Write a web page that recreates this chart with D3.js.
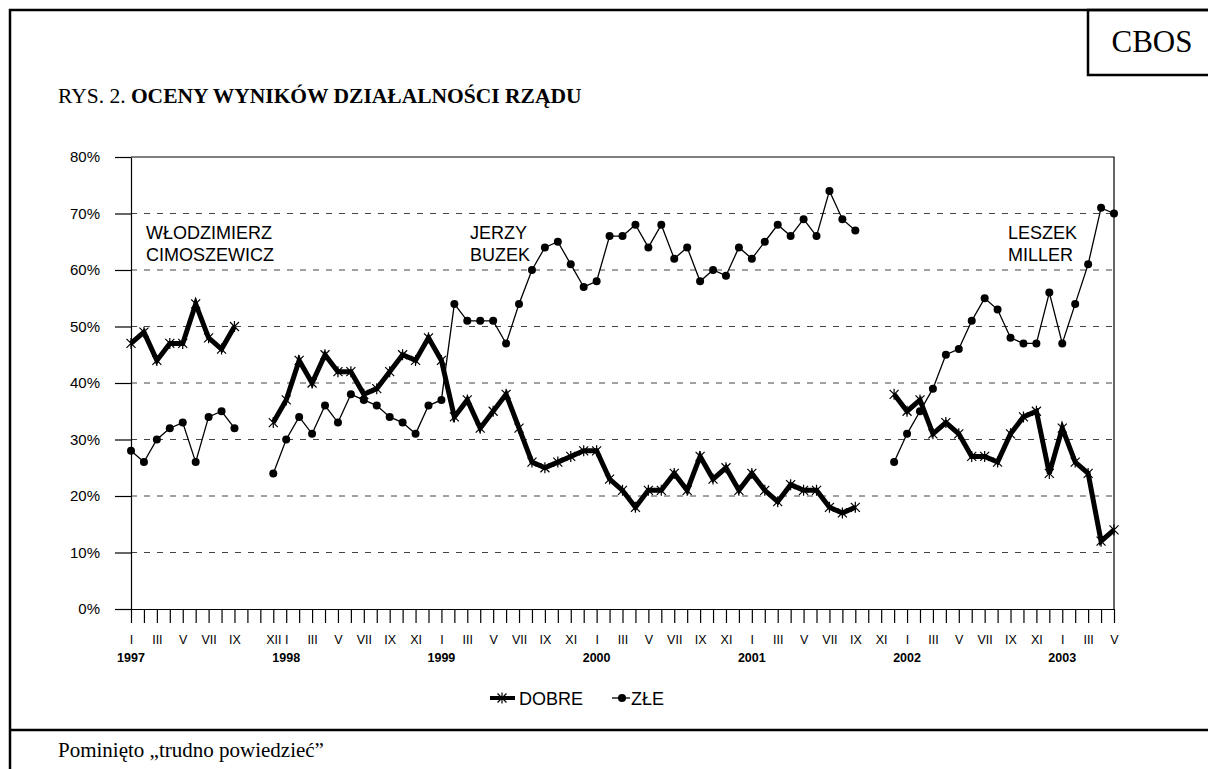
<!DOCTYPE html>
<html>
<head>
<meta charset="utf-8">
<style>
  body { margin: 0; background: #fff; }
  svg { display: block; }
</style>
</head>
<body>
<svg width="1208" height="769"></svg>
<script src="https://d3js.org/d3.v7.min.js"></script>
<script>

// lata na osi X (kategorie = kolejne miesiące od I 1997 do V 2003)
const years = ["1997", "1998", "1999", "2000", "2001", "2002", "2003"];

// etykiety miesięcy pod osią ("" = sama kreska)
const monthLabels = [
  "I","","III","","V","","VII","","IX","","","XII",     // 1997
  "I","","III","","V","","VII","","IX","","XI","",      // 1998
  "I","","III","","V","","VII","","IX","","XI","",      // 1999
  "I","","III","","V","","VII","","IX","","XI","",      // 2000
  "I","","III","","V","","VII","","IX","","XI","",      // 2001
  "I","","III","","V","","VII","","IX","","XI","",      // 2002
  "I","","III","","V"                                   // 2003
];

// oceny dobre (%), null = brak badania
const dobre = [
  47,49,44,47,47,54,48,46,50,null,null,33,
  37,44,40,45,42,42,38,39,42,45,44,48,
  44,34,37,32,35,38,32,26,25,26,27,28,
  28,23,21,18,21,21,24,21,27,23,25,21,
  24,21,19,22,21,21,18,17,18,null,null,38,
  35,37,31,33,31,27,27,26,31,34,35,24,
  32,26,24,12,14
];

// oceny złe (%)
const zle = [
  28,26,30,32,33,26,34,35,32,null,null,24,
  30,34,31,36,33,38,37,36,34,33,31,36,
  37,54,51,51,51,47,54,60,64,65,61,57,
  58,66,66,68,64,68,62,64,58,60,59,64,
  62,65,68,66,69,66,74,69,67,null,null,26,
  31,35,39,45,46,51,55,53,48,47,47,56,
  47,54,61,71,70
];

const yTicks = [0, 0.1, 0.2, 0.3, 0.4, 0.5, 0.6, 0.7, 0.8];

const categories = years.flatMap(y => d3.range(1, 13).map(m => y + "-" + m))
  .slice(0, monthLabels.length);

const width = 1208, height = 769;
const sans = "Arial, Liberation Sans, sans-serif";
const serif = "Liberation Serif, Times New Roman, serif";
let svg = d3.select("svg");

svg.append("rect").attr("width", width).attr("height", height).attr("fill", "#fff");

// ramka, pole CBOS, linia nad przypisem
svg.append("rect").attr("x", 10).attr("y", 10).attr("width", 1220).attr("height", 800)
  .attr("fill", "none").attr("stroke", "#000").attr("stroke-width", 2.5);
svg.append("rect").attr("x", 1088).attr("y", 10).attr("width", 140).attr("height", 65)
  .attr("fill", "none").attr("stroke", "#000").attr("stroke-width", 2.5);
svg.append("line").attr("x1", 10).attr("x2", width).attr("y1", 730).attr("y2", 730)
  .attr("stroke", "#000").attr("stroke-width", 2.5);

svg.append("text").attr("x", 1152).attr("y", 52).attr("text-anchor", "middle")
  .attr("font-family", serif).attr("font-size", 31)
  .text("CBOS");

let title = svg.append("text").attr("x", 58).attr("y", 103)
  .attr("font-family", serif).attr("font-size", 21.5);
title.append("tspan").text("RYS. 2. ");
title.append("tspan").attr("font-weight", "bold").text("OCENY WYNIKÓW DZIAŁALNOŚCI RZĄDU");

svg.append("text").attr("x", 58).attr("y", 757)
  .attr("font-family", serif).attr("font-size", 21)
  .text("Pominięto „trudno powiedzieć”");

// skale
let x = d3.scalePoint().domain(categories).range([131, 1114]);
let y = d3.scaleLinear().domain([0, 0.8]).range([609, 157]);

// siatka
svg.append("g").selectAll("line").data(yTicks.slice(1, -1)).enter().append("line")
  .attr("x1", 131).attr("x2", 1114)
  .attr("y1", d => y(d)).attr("y2", d => y(d))
  .attr("stroke", "#444").attr("stroke-width", 1).attr("stroke-dasharray", "6,7");

// górna i prawa krawędź pola wykresu
svg.append("path")
  .attr("d", `M131,${y(0.8)}H1114V${y(0)}`)
  .attr("fill", "none").attr("stroke", "#000").attr("stroke-width", 1.2);

// oś Y
let axisY = d3.axisLeft(y).tickValues(yTicks).tickFormat(d3.format(".0%"))
  .tickSize(16).tickSizeOuter(0).tickPadding(15);
let gy = svg.append("g").attr("transform", "translate(131,0)").call(axisY);
gy.selectAll("text").attr("font-family", sans).attr("font-size", 15).attr("fill", "#000");
gy.selectAll("line, path").attr("stroke", "#000").attr("stroke-width", 1.2);

// oś X
let axisX = d3.axisBottom(x).tickFormat((d, i) => monthLabels[i])
  .tickSize(14).tickSizeOuter(0).tickPadding(12);
let gx = svg.append("g").attr("transform", `translate(0,${y(0)})`).call(axisX);
gx.selectAll("text").attr("font-family", sans).attr("font-size", 12.5).attr("fill", "#000");
gx.selectAll("line, path").attr("stroke", "#000").attr("stroke-width", 1.2);

svg.append("g").selectAll("text").data(years).enter().append("text")
  .attr("x", d => x(d + "-1")).attr("y", 662)
  .attr("text-anchor", "middle")
  .attr("font-family", sans).attr("font-size", 12.5)
  .attr("font-weight", "bold")
  .text(d => d);

// linie serii
let line = d3.line()
  .defined(d => d != null)
  .x((d, i) => x(categories[i]))
  .y(d => y(d / 100));

const star = "M-4.5,-4.5L4.5,4.5M-4.5,4.5L4.5,-4.5M0,-5.5L0,5.5";

svg.append("path").datum(dobre).attr("d", line)
  .attr("fill", "none").attr("stroke", "#000").attr("stroke-width", 5).attr("stroke-linejoin", "miter");
svg.append("g").selectAll("path")
  .data(dobre.map((v, i) => ({v, i})).filter(d => d.v != null)).enter().append("path")
  .attr("transform", d => `translate(${x(categories[d.i])},${y(d.v / 100)})`)
  .attr("d", star).attr("stroke", "#000").attr("stroke-width", 1.2).attr("fill", "none");

svg.append("path").datum(zle).attr("d", line)
  .attr("fill", "none").attr("stroke", "#000").attr("stroke-width", 1.3);
svg.append("g").selectAll("circle")
  .data(zle.map((v, i) => ({v, i})).filter(d => d.v != null)).enter().append("circle")
  .attr("cx", d => x(categories[d.i])).attr("cy", d => y(d.v / 100))
  .attr("r", 4).attr("fill", "#000");

// nazwiska premierów
const leaders = [["WŁODZIMIERZ", "CIMOSZEWICZ"], ["JERZY", "BUZEK"], ["LESZEK", "MILLER"]];
const leaderX = [146, 470, 1008];
leaders.forEach((names, k) => {
  svg.append("g").selectAll("text").data(names).enter().append("text")
    .attr("x", leaderX[k]).attr("y", (d, j) => 239 + j * 22)
    .attr("font-family", sans).attr("font-size", 18)
    .text(d => d);
});

// legenda
let leg = svg.append("g").attr("transform", "translate(0,698)");
leg.append("line").attr("x1", 490).attr("x2", 515).attr("stroke", "#000").attr("stroke-width", 4);
leg.append("path").attr("transform", "translate(502,0)").attr("d", star)
  .attr("stroke", "#000").attr("stroke-width", 1.2);
leg.append("text").attr("x", 519).attr("y", 6.5)
  .attr("font-family", sans).attr("font-size", 18).text("DOBRE");
leg.append("line").attr("x1", 612).attr("x2", 630).attr("stroke", "#000").attr("stroke-width", 1.3);
leg.append("circle").attr("cx", 622).attr("r", 4).attr("fill", "#000");
leg.append("text").attr("x", 631).attr("y", 6.5)
  .attr("font-family", sans).attr("font-size", 18).text("ZŁE");
</script>
</body>
</html>
